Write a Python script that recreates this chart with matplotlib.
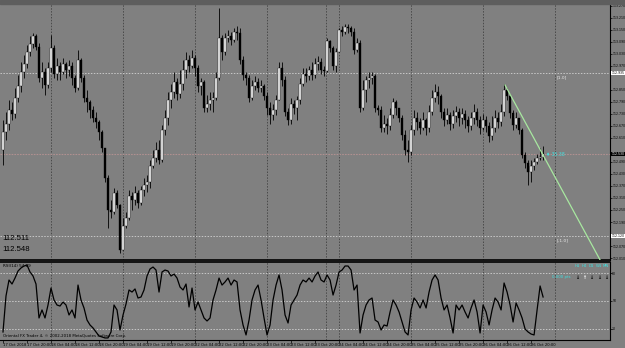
import matplotlib
matplotlib.use("Agg")
import numpy as np
import matplotlib.pyplot as plt

# USDJPY-like hourly candles (open = previous close)
first_open = 112.550
closes = [112.640, 112.680, 112.750, 112.730, 112.810, 112.870, 112.940, 112.980, 113.040, 113.080,
          113.120, 113.065, 112.910, 112.940, 112.875, 112.960, 113.060, 112.930, 112.970, 112.940,
          112.980, 112.950, 112.970, 112.910, 112.860, 113.000, 112.910, 112.810, 112.790, 112.750,
          112.710, 112.690, 112.640, 112.560, 112.410, 112.250, 112.240, 112.335, 112.275, 112.050,
          112.170, 112.210, 112.320, 112.300, 112.335, 112.285, 112.350, 112.375, 112.390, 112.470,
          112.510, 112.550, 112.500, 112.650, 112.710, 112.800, 112.840, 112.890, 112.830, 112.880,
          112.950, 113.000, 112.970, 113.010, 112.960, 112.870, 112.890, 112.760, 112.780, 112.800,
          112.810, 112.910, 113.110, 113.040, 113.110, 113.120, 113.100, 113.140, 113.135, 113.000,
          112.925, 112.910, 112.810, 112.870, 112.890, 112.860, 112.870, 112.820, 112.760, 112.725,
          112.750, 112.800, 112.960, 112.900, 112.740, 112.700, 112.780, 112.760, 112.800, 112.880,
          112.930, 112.920, 112.950, 112.925, 112.980, 112.990, 112.950, 112.945, 113.095, 113.060,
          112.970, 113.040, 113.150, 113.140, 113.165, 113.160, 113.140, 113.050, 113.085, 112.760,
          112.850, 112.900, 112.910, 112.920, 112.760, 112.750, 112.660, 112.680, 112.670, 112.725,
          112.790, 112.760, 112.710, 112.625, 112.550, 112.540, 112.650, 112.710, 112.690, 112.660,
          112.700, 112.660, 112.740, 112.810, 112.840, 112.820, 112.740, 112.700, 112.725, 112.680,
          112.720, 112.740, 112.710, 112.730, 112.700, 112.670, 112.710, 112.740, 112.700, 112.660,
          112.700, 112.670, 112.620, 112.660, 112.710, 112.690, 112.740, 112.850, 112.820, 112.735,
          112.675, 112.710, 112.650, 112.525, 112.485, 112.440, 112.470, 112.490, 112.510, 112.515,
          112.530]
highs = [112.700, 112.740, 112.800, 112.790, 112.860, 112.925, 112.990, 113.025, 113.075, 113.120,
         113.135, 113.130, 113.085, 112.990, 112.960, 112.990, 113.125, 113.075, 113.010, 112.990,
         113.010, 112.990, 113.000, 112.990, 112.925, 113.050, 113.010, 112.925, 112.850, 112.800,
         112.770, 112.740, 112.700, 112.650, 112.550, 112.425, 112.300, 112.360, 112.350, 112.280,
         112.210, 112.240, 112.350, 112.340, 112.370, 112.350, 112.370, 112.410, 112.425, 112.500,
         112.550, 112.590, 112.600, 112.675, 112.750, 112.840, 112.880, 112.940, 112.910, 112.950,
         113.000, 113.040, 113.025, 113.050, 113.025, 112.975, 112.910, 112.900, 112.825, 112.840,
         112.840, 112.940, 113.260, 113.125, 113.135, 113.150, 113.140, 113.160, 113.170, 113.160,
         113.020, 112.940, 112.925, 112.900, 112.920, 112.910, 112.900, 112.880, 112.840, 112.790,
         112.780, 112.825, 112.990, 112.990, 112.920, 112.760, 112.810, 112.800, 112.820, 112.910,
         112.960, 112.960, 112.970, 112.990, 113.010, 113.020, 113.010, 112.970, 113.110, 113.100,
         113.070, 113.060, 113.160, 113.170, 113.180, 113.180, 113.170, 113.160, 113.110, 113.100,
         112.900, 112.920, 112.940, 112.940, 112.930, 112.775, 112.770, 112.725, 112.710, 112.760,
         112.810, 112.800, 112.760, 112.725, 112.650, 112.600, 112.675, 112.750, 112.740, 112.710,
         112.740, 112.710, 112.775, 112.850, 112.880, 112.870, 112.830, 112.760, 112.760, 112.740,
         112.750, 112.770, 112.760, 112.760, 112.750, 112.720, 112.740, 112.780, 112.760, 112.720,
         112.730, 112.720, 112.690, 112.720, 112.750, 112.740, 112.780, 112.880, 112.860, 112.830,
         112.750, 112.740, 112.710, 112.660, 112.540, 112.500, 112.500, 112.510, 112.530, 112.560,
         112.570]
lows = [112.475, 112.600, 112.650, 112.700, 112.710, 112.790, 112.840, 112.910, 112.960, 113.020,
        113.060, 113.050, 112.890, 112.860, 112.825, 112.860, 112.940, 112.910, 112.900, 112.900,
        112.930, 112.910, 112.920, 112.875, 112.840, 112.850, 112.890, 112.790, 112.740, 112.710,
        112.690, 112.660, 112.600, 112.540, 112.390, 112.160, 112.210, 112.230, 112.260, 112.035,
        112.050, 112.160, 112.200, 112.250, 112.275, 112.260, 112.275, 112.320, 112.340, 112.360,
        112.460, 112.490, 112.480, 112.490, 112.625, 112.675, 112.760, 112.810, 112.800, 112.810,
        112.850, 112.910, 112.940, 112.960, 112.920, 112.840, 112.825, 112.740, 112.740, 112.750,
        112.740, 112.800, 112.900, 113.000, 113.025, 113.090, 113.075, 113.090, 113.100, 112.980,
        112.900, 112.875, 112.790, 112.800, 112.850, 112.840, 112.840, 112.800, 112.725, 112.680,
        112.700, 112.725, 112.800, 112.870, 112.720, 112.675, 112.680, 112.730, 112.700, 112.780,
        112.870, 112.890, 112.900, 112.900, 112.910, 112.950, 112.930, 112.920, 112.940, 113.040,
        112.950, 112.940, 113.040, 113.120, 113.130, 113.135, 113.120, 113.030, 113.040, 112.740,
        112.750, 112.790, 112.860, 112.880, 112.740, 112.725, 112.640, 112.640, 112.630, 112.650,
        112.710, 112.725, 112.690, 112.600, 112.525, 112.490, 112.525, 112.625, 112.650, 112.630,
        112.650, 112.625, 112.640, 112.725, 112.790, 112.780, 112.710, 112.670, 112.680, 112.650,
        112.660, 112.690, 112.670, 112.680, 112.660, 112.640, 112.650, 112.680, 112.670, 112.630,
        112.650, 112.640, 112.590, 112.600, 112.640, 112.660, 112.670, 112.720, 112.800, 112.710,
        112.650, 112.660, 112.630, 112.510, 112.460, 112.375, 112.390, 112.450, 112.480, 112.500,
        112.500]

# oscillator in the lower window, one value per candle
osc = [16.8, 55.4, 72.5, 68.2, 74.6, 82.1, 85.4, 87.5, 88.6, 81.1,
       76.8, 68.2, 31.8, 40.4, 31.8, 45.7, 63.9, 51.1, 45.7, 44.6,
       48.9, 45.7, 35.0, 40.4, 31.8, 67.1, 51.1, 42.5, 29.6, 24.3,
       21.1, 16.8, 12.5, 11.4, 10.4, 10.4, 16.8, 45.7, 40.4, 18.9,
       35.0, 46.8, 61.8, 59.6, 62.9, 53.2, 54.3, 61.8, 76.8, 84.3,
       86.4, 83.2, 59.6, 81.1, 83.2, 82.1, 76.8, 78.9, 74.6, 65.0,
       61.8, 68.2, 43.6, 63.9, 40.4, 48.9, 40.4, 31.8, 28.6, 31.8,
       51.1, 61.8, 74.6, 67.1, 70.4, 74.6, 67.1, 72.5, 70.4, 40.4,
       24.3, 13.6, 29.6, 51.1, 61.8, 67.1, 51.1, 31.8, 13.6, 24.3,
       51.1, 67.1, 77.9, 61.8, 35.0, 26.4, 45.7, 51.1, 56.4, 67.1,
       72.5, 70.4, 74.6, 70.4, 76.8, 81.1, 72.5, 70.4, 77.9, 72.5,
       56.4, 67.1, 81.1, 83.2, 87.5, 87.5, 83.2, 61.8, 67.1, 15.7,
       35.0, 45.7, 51.1, 53.2, 29.6, 27.5, 18.9, 24.3, 23.2, 38.2,
       51.1, 45.7, 38.2, 27.5, 16.8, 13.6, 40.4, 53.2, 48.9, 42.5,
       51.1, 42.5, 59.6, 72.5, 77.9, 72.5, 53.2, 40.4, 45.7, 31.8,
       15.7, 45.7, 40.4, 45.7, 38.2, 31.8, 42.5, 51.1, 38.2, 15.7,
       45.7, 38.2, 24.3, 40.4, 53.2, 48.9, 40.4, 69.3, 59.6, 45.7,
       27.5, 47.9, 40.4, 31.8, 20.0, 16.8, 14.6, 13.6, 40.4, 66.1,
       54.3]

time_labels = ["17 Oct 2018", "17 Oct 20:00", "18 Oct 04:00", "18 Oct 12:00", "18 Oct 20:00",
               "19 Oct 04:00", "19 Oct 12:00", "19 Oct 20:00", "22 Oct 04:00", "22 Oct 12:00",
               "22 Oct 20:00", "23 Oct 04:00", "23 Oct 12:00", "23 Oct 20:00", "24 Oct 04:00",
               "24 Oct 12:00", "24 Oct 20:00", "25 Oct 04:00", "25 Oct 12:00", "25 Oct 20:00",
               "26 Oct 04:00", "26 Oct 12:00", "26 Oct 20:00"]

level_hi = 112.935
level_lo = 112.120
bid_text = "112.511"
ask_text = "112.548"

BG = "#808080"
GRID = "#4a4a4a"
LEVEL = "#c8c8c8"
SCALE_FS = 2.25

W, H = 625, 348
PLOT_W = 610
fig = plt.figure(figsize=(W / 100, H / 100), dpi=100, facecolor=BG)
ax = fig.add_axes([0, 88 / H, PLOT_W / W, 256 / H], facecolor=BG)
ax2 = fig.add_axes([0, 8 / H, PLOT_W / W, 78 / H], facecolor=BG)

# dark strip along the top edge of the window
fig.patches.append(plt.Rectangle((0, 1 - 4 / H), 1, 4 / H, transform=fig.transFigure,
                                 color="#5e5e5e", zorder=0))

n = len(closes)
idx = np.arange(n)
o = np.array([first_open] + closes[:-1])
c = np.array(closes)
h = np.array(highs)
l = np.array(lows)
up = c >= o
lo_body = np.minimum(o, c)
body = np.maximum(np.abs(c - o), 0.003)

ax.vlines(idx, l, h, color="black", lw=0.6, zorder=3)
ax.bar(idx[up], body[up], bottom=lo_body[up], width=0.62, color="white",
       edgecolor="black", lw=0.25, zorder=4)
ax.bar(idx[~up], body[~up], bottom=lo_body[~up], width=0.62, color="black",
       edgecolor="black", lw=0.25, zorder=4)

xmin, xmax = -1, 202.3
ax.set_xlim(xmin, xmax)
ax.set_ylim(112.00, 113.28)
ax2.set_xlim(xmin, xmax)
ax2.set_ylim(8.2, 91.8)

# vertical grid every third time label
label_pos = np.arange(0, 8 * len(time_labels), 8)
for gx in np.arange(16, xmax, 24):
    for a in (ax, ax2):
        a.axvline(gx, color=GRID, lw=0.7, ls=(0, (1.5, 1.5)), zorder=1)
# week separator
for a in (ax, ax2):
    a.axvline(107.7, color=GRID, lw=0.7, ls=(0, (1.5, 1.5)), zorder=1)

# level lines and bid line
for lv in (level_hi, level_lo):
    ax.axhline(lv, color=LEVEL, lw=0.7, ls=(0, (1.5, 1.5)), zorder=2)
ax.text(184.5, level_hi - 0.012, "[1.0]", fontsize=3.2, color="#e8e8e8", va="top", zorder=6)
ax.text(184.5, level_lo - 0.012, "[-1.0]", fontsize=3.2, color="#e8e8e8", va="top", zorder=6)
ax.axhline(closes[-1], color="#b09090", lw=0.8, ls=(0, (1.5, 1)), zorder=2)
ax.text(181, closes[-1], "\u2666 35.38", fontsize=3.3, color="#40e0e0", va="center", zorder=6)

# trend line drawn by the user
ax.plot([167.3, 199.0], [112.875, 112.000], color="#a8e8a0", lw=0.9, zorder=5)

# bid / ask readout
ax.text(0.004, 0.085, bid_text, transform=ax.transAxes, fontsize=5.6, color="black",
        family="Liberation Sans", va="center")
ax.text(0.004, 0.04, ask_text, transform=ax.transAxes, fontsize=5.6, color="black",
        family="Liberation Sans", va="center")

# right price scale, skipping the slots taken by the level boxes
boxes = ((level_hi, "white", "black"), (level_lo, "white", "black"),
         (closes[-1], "black", "white"))
ticks = [t for t in np.arange(112.01, 113.28, 0.06)
         if min(abs(t - b[0]) for b in boxes) > 0.03]
ax.yaxis.tick_right()
ax.set_yticks(ticks)
ax.set_yticklabels([f"{t:.3f}" for t in ticks])
ax.tick_params(axis="y", labelsize=SCALE_FS, length=1.2, width=0.5, pad=0.4, colors="black")
ax.set_xticks([])
for v, fc, tc in boxes:
    ax.text(1.003, (v - 112.00) / 1.28, f"{v:.3f}", transform=ax.transAxes,
            fontsize=SCALE_FS, color=tc, va="center", ha="left", zorder=7,
            bbox=dict(boxstyle="square,pad=0.12", fc=fc, ec="none"))

# oscillator window
ax2.plot(idx, osc, color="black", lw=0.9, zorder=3)
for lv in (80, 50, 20):
    ax2.axhline(lv, color=LEVEL, lw=0.7, ls=(0, (1.5, 1.5)), zorder=2)
ax2.yaxis.tick_right()
ax2.set_yticks([80, 50, 20])
ax2.tick_params(axis="y", labelsize=SCALE_FS, length=1.2, width=0.5, pad=0.4, colors="black")
ax2.text(0.005, 0.97, "RSI(14) 54.29", transform=ax2.transAxes, fontsize=3.0, va="top")
ax2.text(0.005, 0.03, "Oriental FX Trader 4, \u00a9 2002-2018 MetaQuotes Software Corp.",
         transform=ax2.transAxes, fontsize=2.8, va="bottom")
ax2.text(0.905, 0.80, "0.000 pts", transform=ax2.transAxes, fontsize=2.8, color="#40e0e0")
for k, tf in enumerate(["H1", "H4", "D1", "W1", "MN"]):
    xk = 0.946 + k * 0.0118
    ax2.text(xk, 0.93, tf, transform=ax2.transAxes, fontsize=2.8, color="#40e0e0",
             ha="center")
    ax2.text(xk, 0.78, "\u2193" if k != 1 else "\u2191", transform=ax2.transAxes,
             fontsize=3.5, color="black" if k != 1 else "white", ha="center",
             fontweight="bold")

ax2.set_xticks(label_pos)
ax2.set_xticklabels(time_labels, ha="left")
ax2.tick_params(axis="x", labelsize=2.7, length=2, width=0.5, pad=0.5, colors="black")

for a in (ax, ax2):
    for s in ("left", "top"):
        a.spines[s].set_visible(False)
    a.spines["right"].set_color("black")
    a.spines["right"].set_linewidth(0.8)
ax.spines["bottom"].set_linewidth(1.2)
ax2.spines["top"].set_visible(True)
ax2.spines["top"].set_linewidth(1.2)
ax2.spines["bottom"].set_linewidth(0.8)

fig.savefig("out.png", dpi=100, facecolor=BG)
